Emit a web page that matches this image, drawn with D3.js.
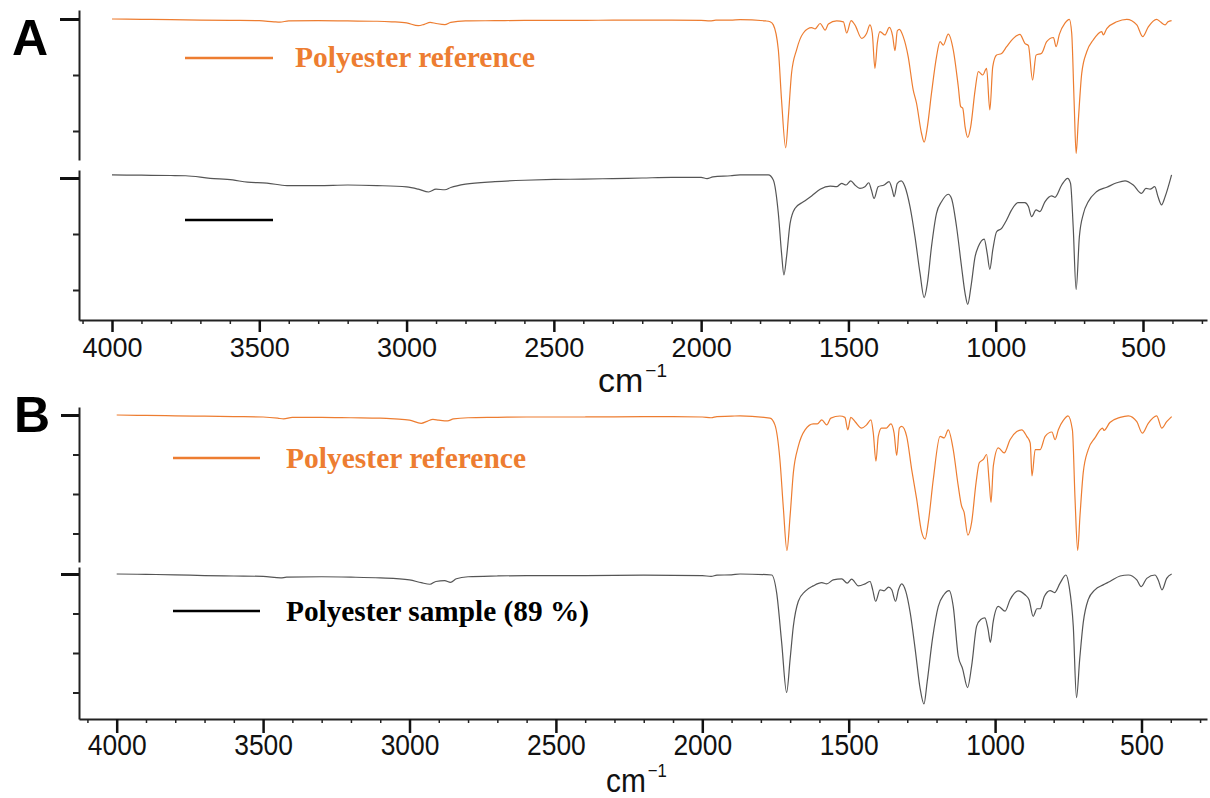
<!DOCTYPE html>
<html><head><meta charset="utf-8">
<script src="https://cdn.jsdelivr.net/npm/d3@7/dist/d3.min.js"></script>
<style>html,body{margin:0;padding:0;background:#fff;} svg{display:block;}</style>
</head><body>
<svg id="chart" width="1210" height="798"></svg>
<script>
// ---------- DATA (wavenumber cm-1, relative transmittance %) ----------
const panelNames = ["A", "B"];
const xMajorTicks = [4000, 3500, 3000, 2500, 2000, 1500, 1000, 500];
const legendTexts = ["Polyester reference", "", "Polyester reference", "Polyester sample (89 %)"];

const refA = [[4000,100],[3900,99.9],[3800,99.8],[3700,99.6],[3600,99.5],[3500,99.4],[3450,99.0],[3430,98.9],[3400,99.3],[3300,99.4],[3200,99.3],[3100,99.2],[3050,99.0],[3000,98.6],[2960,97.6],[2940,98.1],[2920,98.8],[2900,98.4],[2870,98.0],[2850,98.8],[2800,99.3],[2700,99.4],[2600,99.5],[2500,99.5],[2400,99.5],[2300,99.6],[2200,99.6],[2100,99.6],[2000,99.5],[1970,99.3],[1950,99.6],[1900,99.6],[1868,99.8],[1780,99.3],[1766,99],[1755,97.9],[1738,89],[1727,71],[1713,54],[1704,65],[1693,80.7],[1676,89],[1653,95],[1625,96.9],[1613,96.5],[1596,98.4],[1579,96],[1568,98.2],[1540,99.3],[1517,99],[1506,95],[1491,99.4],[1478,97.9],[1455,93.1],[1438,94.9],[1427,97.9],[1419,94.9],[1410,82.4],[1402,91.3],[1393,95.5],[1376,94.3],[1361,97],[1350,94],[1342,88.7],[1334,95.8],[1327,96.3],[1314,93.7],[1297,86.5],[1280,74.6],[1269,70],[1252,59.2],[1243,56],[1232,61.5],[1218,73.5],[1201,86.5],[1189,91.9],[1178,90.7],[1161,94.6],[1144,88.9],[1127,75.8],[1119,68.7],[1112,68.2],[1104,61.5],[1095,57.7],[1085,61.5],[1070,74.6],[1059,81.2],[1044,80],[1031,82.4],[1020,67.5],[1010,83],[997,87.1],[980,87.7],[963,90.1],[940,93.1],[918,94.5],[901,91.3],[889,90.5],[875,78.2],[863,87.1],[844,87.8],[827,91.9],[804,93.4],[795,90.1],[784,94.5],[765,98.5],[750,99.9],[742,94.9],[734,71],[727,52],[720,63],[708,80.6],[691,88.3],[669,92.5],[640,95.5],[635,94.3],[623,96.6],[589,99],[555,99.9],[521,97.9],[501,93.7],[482,97.2],[454,99.9],[440,98.9],[425,97.9],[415,99],[403,99.4]];

const sampleA = [[4000,101.1],[3900,101],[3800,100.9],[3750,100.8],[3667,99.9],[3590,99.3],[3540,98.5],[3474,98.2],[3406,97.3],[3300,97.3],[3200,97.5],[3100,97.3],[3000,96.8],[2960,96],[2925,95],[2900,96],[2870,95.8],[2850,96.6],[2800,97.8],[2700,98.7],[2600,99.2],[2500,99.5],[2400,99.6],[2300,99.8],[2200,100],[2100,100.2],[2000,100.2],[1980,99.8],[1960,100.4],[1900,100.8],[1868,101.1],[1772,101.1],[1755,99.3],[1738,87.4],[1727,73.1],[1719,65.4],[1710,71.9],[1698,83.8],[1681,89.2],[1653,91.5],[1625,93.6],[1596,96],[1562,97.1],[1540,96.9],[1523,98.1],[1508,97.5],[1492,99],[1478,97.5],[1461,96.3],[1444,96.9],[1431,98.3],[1422,95.7],[1413,92.7],[1399,96.9],[1379,97.5],[1362,98.7],[1351,95.7],[1345,93.3],[1334,98.1],[1321,99],[1308,96.9],[1291,89.8],[1274,79],[1257,66],[1243,57.3],[1232,62.4],[1218,75.5],[1201,87.4],[1184,91.5],[1161,94.2],[1150,92.7],[1133,82.6],[1116,68.3],[1104,58.8],[1095,54.9],[1084,61.2],[1070,71.9],[1059,75.5],[1039,78.2],[1029,73.1],[1020,67.4],[1010,74.3],[997,80.8],[980,82],[963,85],[946,88.6],[924,91.2],[901,91.2],[889,89.8],[878,86.2],[863,88.6],[850,88],[833,91.5],[810,93.6],[799,93.1],[776,97.5],[756,99.9],[746,98.1],[737,82.6],[727,60.2],[716,79],[702,87.4],[686,91.5],[658,95.1],[623,96.7],[589,98.3],[561,99],[533,97.5],[505,94.5],[490,96.3],[476,96],[460,96.9],[449,93.3],[437,90.4],[425,93.3],[403,101.1]];

const refB = [[4000,100],[3900,99.9],[3800,99.8],[3700,99.7],[3600,99.6],[3500,99.5],[3450,99.2],[3430,99.0],[3400,99.4],[3300,99.4],[3200,99.3],[3100,99.2],[3050,99],[3000,98.7],[2960,97.9],[2940,98.4],[2920,98.9],[2900,98.7],[2870,98.5],[2850,99],[2800,99.3],[2700,99.4],[2600,99.5],[2400,99.5],[2200,99.6],[2100,99.6],[2000,99.5],[1970,99.3],[1950,99.6],[1900,99.7],[1871,99.8],[1769,99.2],[1752,97.5],[1735,88.75],[1723,76.25],[1711,65.7],[1700,74.6],[1689,85.4],[1672,92.1],[1649,96.25],[1621,97.75],[1607,97.75],[1592,98.75],[1575,97.5],[1561,99.2],[1530,99.75],[1513,99.4],[1503,96.25],[1493,99.4],[1478,98.3],[1456,96.7],[1439,97.5],[1424,98.75],[1416,95.4],[1407,88.3],[1399,94.6],[1388,96.7],[1371,96.7],[1356,97.75],[1345,95.4],[1336,89.75],[1327,96.7],[1319,97.1],[1302,94.6],[1285,86.25],[1268,78.75],[1251,70.4],[1239,68.6],[1228,72.9],[1211,83.75],[1188,94.6],[1174,94.2],[1160,96.25],[1143,91.25],[1126,82.1],[1115,77.1],[1106,75.4],[1093,69.6],[1080,72.9],[1065,82.9],[1054,87.9],[1040,88.75],[1029,90],[1020,82.9],[1014,77.9],[1006,87.1],[989,91.7],[969,90.4],[949,93.75],[926,95.8],[909,96.25],[892,94.6],[880,92.9],[874,84.6],[863,91.25],[846,91.25],[829,94.6],[806,95.7],[795,93.75],[784,96.25],[766,98.75],[751,99.8],[736,96.25],[727,78.75],[718,65.7],[710,74.6],[699,85.4],[682,91.25],[659,94.2],[633,96.7],[628,96.1],[608,98.1],[573,99.4],[545,99.8],[516,98.3],[497,95.4],[477,97.9],[448,99.8],[431,96.7],[414,98.3],[397,99.6]];

const sampleB = [[4000,100],[3900,99.9],[3800,99.8],[3700,99.6],[3600,99.5],[3500,99.4],[3440,99.0],[3420,99.2],[3300,99.3],[3200,99.2],[3100,99.0],[3000,98.5],[2960,97.8],[2930,97.4],[2910,98.1],[2880,98.3],[2860,97.9],[2840,98.8],[2800,99.3],[2700,99.5],[2600,99.6],[2400,99.6],[2200,99.7],[2000,99.6],[1970,99.4],[1950,99.7],[1900,99.8],[1871,100],[1763,99.75],[1746,95.2],[1729,82.7],[1712,70],[1700,78.5],[1689,86.8],[1672,93.1],[1649,95.6],[1621,97],[1592,97.8],[1575,97.5],[1553,98.5],[1524,98.75],[1505,97.7],[1490,98.7],[1467,97],[1444,97.5],[1427,98.1],[1418,96],[1408,93.1],[1393,96],[1379,95.75],[1364,96.7],[1353,96],[1340,93.1],[1330,96],[1319,97.5],[1305,95.6],[1290,90.2],[1273,81],[1256,71],[1243,67.1],[1232,72.7],[1214,83.5],[1194,91.8],[1175,94.75],[1157,95.8],[1143,91.8],[1126,79.3],[1111,76],[1094,71.25],[1080,76.8],[1063,86.8],[1049,88.5],[1035,88.9],[1024,86],[1016,82.7],[1007,87.7],[989,91.8],[966,90.6],[949,93.5],[921,95.75],[898,94.75],[884,93.5],[870,89.3],[857,91.2],[846,91.2],[832,94.3],[812,95.8],[797,95.3],[778,97.7],[758,99.75],[747,96.8],[733,86.8],[722,68.7],[711,78.5],[699,87.7],[682,93.5],[659,96],[631,97.25],[608,98.1],[573,99.5],[545,99.75],[516,98.5],[501,96.8],[482,98.9],[454,99.75],[443,98.5],[430,96],[414,98.9],[397,100]];

// ---------- DRAWING ----------
const svg = d3.select("#chart");
const ORANGE = "#ED7D31", GREY = "#555555", AXIS = "#222222";
const MINOR = d3.range(4100, 250, -100).filter(v => v % 500 !== 0);

const panels = [
  { name: panelNames[0], x4000: 112, x500: 1143, xl: 79, xr: 1207,
    subs: [ { data: refA,    color: ORANGE, top: 10,  bot: 160, y100: 19,  pxPer: 2.8, minors: [80, 60], legend: legendTexts[0], ly: 58,  tb: 67,  tl: 240 },
            { data: sampleA, color: GREY,   top: 170, bot: 320, y100: 178, pxPer: 2.8, minors: [80, 60], legend: legendTexts[1], ly: 220, tb: 229, tl: 0 } ],
    lineX: [185, 273], textX: 295, lblSize: 27, lblScale: 1, lblPad: 6, majorLen: 12, ymajLen: 19,
    letterX: 12, letterY: 55, cmX: 598, cmY: 392, cmScale: 1 },
  { name: panelNames[1], x4000: 116.7, x500: 1141.5, xl: 79, xr: 1207,
    subs: [ { data: refB,    color: ORANGE, top: 407, bot: 562, y100: 415, pxPer: 3.95, minors: [90, 80, 70], legend: legendTexts[2], ly: 458, tb: 468, tl: 240 },
            { data: sampleB, color: GREY,   top: 567, bot: 719, y100: 574, pxPer: 3.95, minors: [90, 80, 70], legend: legendTexts[3], ly: 611, tb: 621, tl: 303 } ],
    lineX: [173, 260], textX: 286, lblSize: 30, lblScale: 0.88, lblPad: 1, majorLen: 14, ymajLen: 18,
    letterX: 14, letterY: 432, cmX: 606, cmY: 792, cmScale: 0.88 }
];

panels.forEach(p => {
  const x0 = d3.scaleLinear().domain([4000, 500]).range([p.x4000, p.x500]);
  const x = d3.scaleLinear().domain([x0.invert(p.xl), x0.invert(p.xr)]).range([p.xl, p.xr]);
  const g = svg.append("g");
  const axisY = p.subs[1].bot;

  p.subs.forEach(s => {
    const y = d3.scaleLinear()
      .domain([100 - (s.bot - s.y100) / s.pxPer, 100 + (s.y100 - s.top) / s.pxPer])
      .range([s.bot, s.top]);
    // minor y ticks + axis line
    const ya = g.append("g").attr("transform", `translate(${p.xl},0)`)
      .call(d3.axisLeft(y).tickValues(s.minors).tickSize(6).tickSizeOuter(0).tickFormat(""));
    ya.selectAll("path").attr("stroke", AXIS).attr("stroke-width", 2);
    ya.selectAll("line").attr("stroke", AXIS).attr("stroke-width", 2);
    // major y tick
    const yb = g.append("g").attr("transform", `translate(${p.xl},0)`)
      .call(d3.axisLeft(y).tickValues([100]).tickSize(p.ymajLen).tickSizeOuter(0).tickFormat(""));
    yb.select(".domain").remove();
    yb.selectAll("line").attr("stroke", "#111").attr("stroke-width", 3);

    // spectrum
    const line = d3.line().x(d => x(d[0])).y(d => y(d[1])).curve(d3.curveMonotoneX);
    g.append("path").datum(s.data).attr("d", line)
      .attr("fill", "none").attr("stroke", s.color).attr("stroke-width", 1.2)
      .attr("stroke-linejoin", "round");

    // legend
    g.append("line").attr("x1", p.lineX[0]).attr("x2", p.lineX[1]).attr("y1", s.ly).attr("y2", s.ly)
      .attr("stroke", s.color === ORANGE ? ORANGE : "#000").attr("stroke-width", 2.6);
    if (s.legend) {
      g.append("text").attr("x", p.textX).attr("y", s.tb).text(s.legend)
        .attr("font-family", "'Liberation Serif','Times New Roman',serif").attr("font-weight", "bold")
        .attr("font-size", 30).attr("fill", s.color === ORANGE ? ORANGE : "#000")
        .attr("textLength", s.tl).attr("lengthAdjust", "spacingAndGlyphs");
    }
  });

  // x axis
  const xa = g.append("g").attr("transform", `translate(0,${axisY})`)
    .call(d3.axisBottom(x).tickValues(MINOR).tickSize(4).tickSizeOuter(0).tickFormat(""));
  xa.selectAll("path").attr("stroke", AXIS).attr("stroke-width", 2);
  xa.selectAll("line").attr("stroke", AXIS).attr("stroke-width", 1.5);
  const xb = g.append("g").attr("transform", `translate(0,${axisY})`)
    .call(d3.axisBottom(x).tickValues(xMajorTicks).tickSize(p.majorLen).tickPadding(p.lblPad).tickFormat(d3.format("d")));
  xb.select(".domain").remove();
  xb.selectAll("line").attr("stroke", "#111").attr("stroke-width", 2.5);
  xb.selectAll("text").attr("font-family", "'Liberation Sans',Arial,sans-serif")
    .attr("font-size", p.lblSize).attr("fill", "#111")
    .attr("transform", `scale(${p.lblScale},1)`);

  // axis title (cm^-1)
  const tg = g.append("g").attr("transform", `translate(${p.cmX},${p.cmY}) scale(${p.cmScale},1)`);
  const t = tg.append("text").attr("x", 0).attr("y", 0)
    .attr("font-family", "'Liberation Sans',Arial,sans-serif").attr("font-size", 34).attr("fill", "#111");
  t.append("tspan").text("cm");
  t.append("tspan").text("\u22121").attr("font-size", 19).attr("dy", -15).attr("dx", 2);

  // panel letter
  g.append("text").attr("x", p.letterX).attr("y", p.letterY).text(p.name)
    .attr("font-family", "'Liberation Sans',Arial,sans-serif").attr("font-weight", "bold")
    .attr("font-size", 50).attr("fill", "#000");
});
</script>
</body></html>
